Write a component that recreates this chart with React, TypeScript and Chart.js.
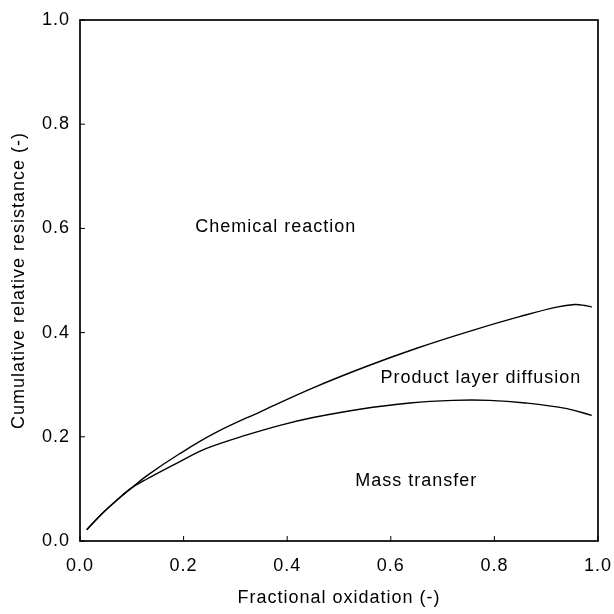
import React, { useEffect, useRef } from "react";
import { Chart, registerables } from "chart.js";

Chart.register(...registerables);

const upperX = [0.013, 0.04, 0.065, 0.097, 0.13, 0.19, 0.26, 0.35, 0.45, 0.55, 0.65, 0.75, 0.85, 0.92, 0.955, 0.975, 0.988];
const upperY = [0.0215, 0.05, 0.073, 0.1, 0.126, 0.166, 0.207, 0.249, 0.294, 0.334, 0.37, 0.402, 0.431, 0.449, 0.454, 0.452, 0.449];
const lowerX = [0.013, 0.04, 0.065, 0.097, 0.13, 0.19, 0.232, 0.264, 0.31, 0.386, 0.45, 0.54, 0.637, 0.72, 0.79, 0.86, 0.94, 0.988];
const lowerY = [0.0215, 0.05, 0.073, 0.1, 0.1195, 0.151, 0.1725, 0.185, 0.2, 0.222, 0.237, 0.253, 0.265, 0.27, 0.27, 0.265, 0.254, 0.241];
const tickValues = [0, 0.2, 0.4, 0.6, 0.8, 1.0];
const regionLabels = ["Chemical reaction", "Product layer diffusion", "Mass transfer"];
const regionLabelX = [0.378, 0.774, 0.649];
const regionLabelY = [0.603, 0.3135, 0.116];
const xTitle = "Fractional oxidation (-)";
const yTitle = "Cumulative relative resistance (-)";

const FONT = "'Liberation Sans', Arial, sans-serif";

const framePlugin = {
  id: "frame",
  beforeDraw(chart: any) {
    chart.ctx.letterSpacing = "1px";
  },
  afterDraw(chart: any) {
    const { ctx, chartArea, scales } = chart;
    const xs = scales.x;
    const ys = scales.y;
    ctx.save();
    ctx.letterSpacing = "1px";
    ctx.strokeStyle = "#000";
    ctx.lineWidth = 1.7;
    ctx.strokeRect(chartArea.left, chartArea.top, chartArea.right - chartArea.left, chartArea.bottom - chartArea.top);
    ctx.lineWidth = 1;
    const len = 5;
    tickValues.forEach((v) => {
      const px = xs.getPixelForValue(v);
      ctx.beginPath();
      ctx.moveTo(px, chartArea.bottom);
      ctx.lineTo(px, chartArea.bottom - len);
      ctx.stroke();
      const py = ys.getPixelForValue(v);
      ctx.beginPath();
      ctx.moveTo(chartArea.left, py);
      ctx.lineTo(chartArea.left + len, py);
      ctx.stroke();
    });
    ctx.fillStyle = "#000";
    ctx.font = `18px ${FONT}`;
    ctx.textAlign = "center";
    ctx.textBaseline = "middle";
    regionLabels.forEach((t, i) => {
      ctx.fillText(t, xs.getPixelForValue(regionLabelX[i]), ys.getPixelForValue(regionLabelY[i]));
    });
    ctx.fillText(xTitle, (chartArea.left + chartArea.right) / 2, 598);
    ctx.save();
    ctx.translate(19, (chartArea.top + chartArea.bottom) / 2);
    ctx.rotate(-Math.PI / 2);
    ctx.fillText(yTitle, 0, 0);
    ctx.restore();
    ctx.restore();
  },
};

export default function App() {
  const ref = useRef<HTMLCanvasElement>(null);
  useEffect(() => {
    if (!ref.current) return;
    const ds = (xs: number[], ys: number[]) => ({
      data: xs.map((x, i) => ({ x, y: ys[i] })),
      borderColor: "#000",
      borderWidth: 1.4,
      pointRadius: 0,
      tension: 0.4,
      fill: false,
    });
    const chart = new Chart(ref.current, {
      type: "line",
      data: { datasets: [ds(upperX, upperY), ds(lowerX, lowerY)] },
      options: {
        animation: false,
        responsive: false,
        maintainAspectRatio: false,
        layout: { padding: { left: 0, top: 20, right: 16, bottom: 0 } },
        plugins: { legend: { display: false }, tooltip: { enabled: false } },
        scales: {
          x: {
            type: "linear",
            min: 0,
            max: 1,
            afterBuildTicks: (s: any) => {
              s.ticks = tickValues.map((v) => ({ value: v }));
            },
            afterFit: (s: any) => {
              s.height = 73;
              s.paddingLeft = 0;
              s.paddingRight = 0;
            },
            grid: { display: false, drawTicks: false },
            border: { display: false },
            ticks: {
              color: "#000",
              padding: 14,
              font: { family: FONT, size: 18 },
              callback: (v: any) => Number(v).toFixed(1),
            },
          },
          y: {
            type: "linear",
            min: 0,
            max: 1,
            afterBuildTicks: (s: any) => {
              s.ticks = tickValues.map((v) => ({ value: v }));
            },
            afterFit: (s: any) => {
              s.width = 80;
              s.paddingTop = 0;
              s.paddingBottom = 0;
            },
            grid: { display: false, drawTicks: false },
            border: { display: false },
            ticks: {
              color: "#000",
              padding: 10,
              font: { family: FONT, size: 18 },
              callback: (v: any) => Number(v).toFixed(1),
            },
          },
        },
      },
      plugins: [framePlugin],
    });
    return () => chart.destroy();
  }, []);
  return (
    <div style={{ position: "fixed", left: 0, top: 0, width: 614, height: 614, background: "#fff" }}>
      <canvas ref={ref} width={614} height={614} style={{ display: "block", width: 614, height: 614 }} />
    </div>
  );
}
